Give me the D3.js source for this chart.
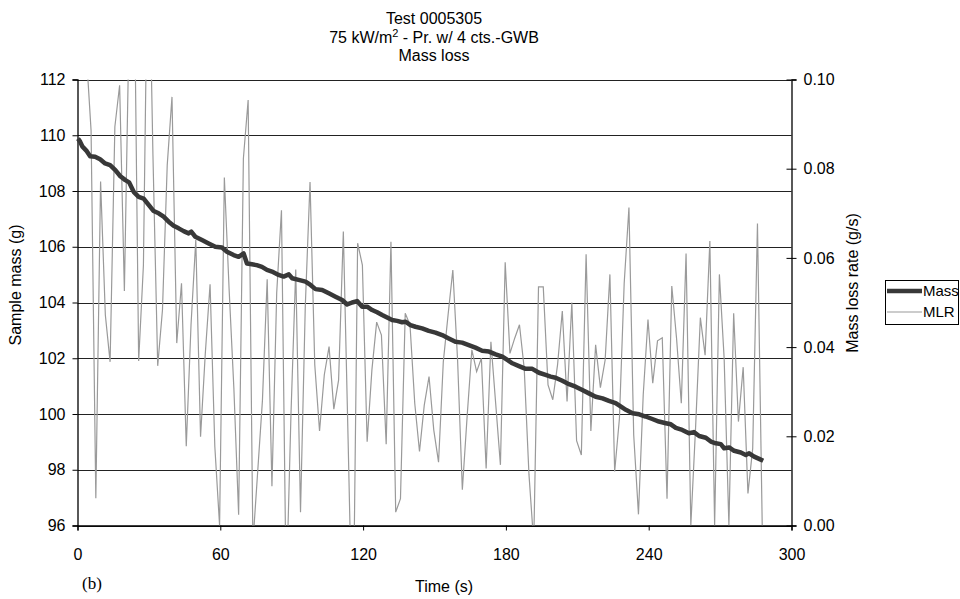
<!DOCTYPE html>
<html>
<head>
<meta charset="utf-8">
<script src="https://cdn.jsdelivr.net/npm/d3@7"></script>
<style>
  body { margin: 0; background: #fff; }
  svg { display: block; font-family: "Liberation Sans", Arial, sans-serif; }
</style>
</head>
<body>
<svg id="chart" width="960" height="599"></svg>
<script>
// ticks
const timeTicks = [0, 60, 120, 180, 240, 300];
const massTicks = [96, 98, 100, 102, 104, 106, 108, 110, 112];
const mlrTicks = [0, 0.02, 0.04, 0.06, 0.08, 0.1];

// sample mass (g)
const massTime = [0.2, 1.1, 2.1, 3.9, 5.3, 7.4, 9.5, 11.6, 13.7, 15.9, 18, 20.1, 21.7, 23.6, 25.7, 27.8, 29.9, 32, 34.1, 36.2,
  38.3, 40.4, 42.5, 44.6, 46.7, 47.8, 49.5, 52.3, 55.1, 57.9, 60.7, 62.8, 65.6, 67.7, 69.8, 71.2, 73.3, 75.3, 77.5, 79.6,
  81.7, 84.5, 86.6, 88.8, 90.2, 92.9, 95.8, 97.9, 100, 102.8, 105.6, 108.4, 111.2, 113.3, 115.4, 117.5, 119.6, 121.7, 123.8, 125.9,
  128, 130.1, 132.2, 134.3, 136.4, 137.8, 139.9, 142, 144.8, 147.6, 150.4, 153.2, 156, 158.8, 161.6, 164.4, 167.2, 170, 172.9, 175.7,
  178.5, 180.6, 182.7, 185.5, 188.3, 191.1, 193.9, 196.7, 198.8, 200.9, 203.7, 206.5, 209.3, 212.1, 214.9, 217.7, 220.6, 223.3, 226.1, 228.2,
  230.4, 233.2, 236, 238.7, 241.5, 244.3, 247.2, 249.3, 251.4, 254.1, 256.9, 259, 261.2, 264, 266.1, 268.2, 270.3, 271.7, 273.8, 275.9,
  278.7, 280.8, 282.2, 284.3, 286.4, 288.1];
const massValue = [109.88, 109.77, 109.59, 109.43, 109.25, 109.23, 109.14, 108.99, 108.93, 108.75, 108.53, 108.39, 108.31, 107.97, 107.79, 107.73, 107.5, 107.28, 107.2, 107.08,
  106.9, 106.75, 106.66, 106.56, 106.48, 106.54, 106.36, 106.24, 106.12, 106.0, 105.97, 105.82, 105.7, 105.64, 105.76, 105.4, 105.37, 105.34, 105.28, 105.17,
  105.11, 104.99, 104.93, 105.01, 104.87, 104.81, 104.75, 104.63, 104.48, 104.45, 104.33, 104.21, 104.09, 103.93, 104.0, 104.05, 103.85, 103.85, 103.73, 103.65,
  103.55, 103.46, 103.37, 103.34, 103.29, 103.31, 103.19, 103.13, 103.07, 102.98, 102.92, 102.83, 102.71, 102.59, 102.56, 102.47, 102.38, 102.27, 102.24, 102.14,
  102.06, 101.94, 101.82, 101.72, 101.62, 101.62, 101.48, 101.4, 101.34, 101.3, 101.19, 101.07, 100.98, 100.86, 100.74, 100.62, 100.56, 100.47, 100.39, 100.27,
  100.15, 100.03, 99.99, 99.91, 99.82, 99.73, 99.67, 99.63, 99.5, 99.43, 99.31, 99.35, 99.21, 99.15, 99.01, 98.95, 98.92, 98.77, 98.8, 98.68,
  98.62, 98.53, 98.59, 98.47, 98.39, 98.32];

// mass loss rate (g/s), one reading every 2 s
const mlrTime = [3.7, 5.7, 7.7, 9.7, 11.7, 13.7, 15.7, 17.7, 19.7, 21.7, 23.7, 25.7, 27.7, 29.7, 31.7, 33.7, 35.7, 37.7, 39.7, 41.7,
  43.7, 45.7, 47.7, 49.7, 51.7, 53.7, 55.7, 57.7, 59.7, 61.7, 63.7, 65.7, 67.7, 69.7, 71.7, 73.7, 75.7, 77.7, 79.7, 81.7,
  83.7, 85.7, 87.7, 89.7, 91.7, 93.7, 95.7, 97.7, 99.7, 101.7, 103.7, 105.7, 107.7, 109.7, 111.7, 113.7, 115.7, 117.7, 119.7, 121.7,
  123.7, 125.7, 127.7, 129.7, 131.7, 133.7, 135.7, 137.7, 139.7, 141.7, 143.7, 145.7, 147.7, 149.7, 151.7, 153.7, 155.7, 157.7, 159.7, 161.7,
  163.7, 165.7, 167.7, 169.7, 171.7, 173.7, 175.7, 177.7, 179.7, 181.7, 183.7, 185.7, 187.7, 189.7, 191.7, 193.7, 195.7, 197.7, 199.7, 201.7,
  203.7, 205.7, 207.7, 209.7, 211.7, 213.7, 215.7, 217.7, 219.7, 221.7, 223.7, 225.7, 227.7, 229.7, 231.7, 233.7, 235.7, 237.7, 239.7, 241.7,
  243.7, 245.7, 247.7, 249.7, 251.7, 253.7, 255.7, 257.7, 259.7, 261.7, 263.7, 265.7, 267.7, 269.7, 271.7, 273.7, 275.7, 277.7, 279.7, 281.7,
  283.7, 285.7, 287.7];
const mlrValue = [0.106, 0.0886, 0.0061, 0.0771, 0.0472, 0.0367, 0.0894, 0.0987, 0.0526, 0.113, 0.131, 0.0369, 0.0584, 0.14, 0.083, 0.0358, 0.0483, 0.0808, 0.0961, 0.0409,
  0.0543, 0.0178, 0.045, 0.064, 0.0199, 0.0386, 0.0541, 0.0177, 0.0, 0.078, 0.053, 0.0308, 0.0024, 0.0823, 0.0954, -0.004, 0.012, 0.028, 0.0552, 0.0088,
  0.0522, 0.0707, -0.0155, 0.025, 0.0574, 0.003, 0.049, 0.077, 0.036, 0.0212, 0.0338, 0.0401, 0.0261, 0.0326, 0.0659, 0.0192, -0.03, 0.0633, 0.0584, 0.0188,
  0.0349, 0.0456, 0.0427, 0.0182, 0.0636, 0.003, 0.006, 0.0476, 0.045, 0.0274, 0.0166, 0.027, 0.0334, 0.0214, 0.0142, 0.0367, 0.0472, 0.0573, 0.0371, 0.008,
  0.0244, 0.0394, 0.0345, 0.0375, 0.0128, 0.0412, 0.0274, 0.0136, 0.059, 0.0386, 0.042, 0.045, 0.0352, 0.0114, -0.004, 0.0535, 0.0535, 0.0315, 0.0282, 0.036,
  0.0481, 0.0278, 0.05, 0.019, 0.0158, 0.0608, 0.0212, 0.0405, 0.0309, 0.0371, 0.0563, 0.0121, 0.024, 0.0543, 0.0713, 0.0203, 0.0025, 0.0293, 0.0462, 0.0319,
  0.0414, 0.0421, 0.006, 0.0537, 0.042, 0.0274, 0.061, 0.0, 0.022, 0.0466, 0.0382, 0.0638, 0.0, 0.0563, 0.0375, 0.0, 0.0476, 0.0233, 0.0355, 0.0072,
  0.0173, 0.0677, 0.0];

const svg = d3.select("#chart");
const plotLeft = 77.5, plotRight = 791.5, plotTop = 79.5, plotBottom = 525.5;

const x = d3.scaleLinear().domain([0, 300]).range([plotLeft, plotRight]);
const yMass = d3.scaleLinear().domain([96, 112]).range([plotBottom, plotTop]);
const yMlr = d3.scaleLinear().domain([0, 0.1]).range([plotBottom, plotTop]);

// titles
const title = svg.append("g").attr("text-anchor", "middle").attr("font-size", 16);
title.append("text").attr("x", 434).attr("y", 24).text("Test 0005305");
const t2 = title.append("text").attr("x", 434).attr("y", 43);
t2.append("tspan").text("75 kW/m");
t2.append("tspan").attr("font-size", 11).attr("dy", -6).text("2");
t2.append("tspan").attr("dy", 6).text(" - Pr. w/ 4 cts.-GWB");
title.append("text").attr("x", 434).attr("y", 61).text("Mass loss");

// gridlines
svg.append("g")
  .selectAll("line")
  .data(massTicks)
  .join("line")
  .attr("x1", plotLeft)
  .attr("x2", plotRight)
  .attr("y1", (d) => Math.round(yMass(d)) + 0.5)
  .attr("y2", (d) => Math.round(yMass(d)) + 0.5)
  .attr("stroke", "#222")
  .attr("stroke-width", 1);

// axes
const leftAxis = svg.append("g")
  .attr("transform", `translate(${plotLeft},0)`)
  .call(d3.axisLeft(yMass).tickValues(massTicks).tickSize(5).tickPadding(7).tickFormat(d3.format("d")));
const rightAxis = svg.append("g")
  .attr("transform", `translate(${plotRight},0)`)
  .call(d3.axisRight(yMlr).tickValues(mlrTicks).tickSize(5).tickPadding(7).tickFormat(d3.format(".2f")));
rightAxis.selectAll(".tick line").attr("x1", -5);
const bottomAxis = svg.append("g")
  .attr("transform", `translate(0,${plotBottom})`)
  .call(d3.axisBottom(x).tickValues(timeTicks).tickSize(5).tickPadding(18).tickFormat(d3.format("d")));

[leftAxis, rightAxis, bottomAxis].forEach((g) => {
  g.select(".domain").attr("stroke", "#000").attr("stroke-width", 1.3);
  g.selectAll(".tick line").attr("stroke", "#000");
  g.selectAll(".tick text").attr("font-size", 16).attr("fill", "#000")
    .attr("font-family", "'Liberation Sans', Arial, sans-serif");
});

// axis titles
svg.append("text")
  .attr("transform", "translate(21,285) rotate(-90)")
  .attr("text-anchor", "middle").attr("font-size", 16)
  .text("Sample mass (g)");
svg.append("text")
  .attr("transform", "translate(858,283) rotate(-90)")
  .attr("text-anchor", "middle").attr("font-size", 16)
  .text("Mass loss rate (g/s)");
svg.append("text")
  .attr("x", 444).attr("y", 592)
  .attr("text-anchor", "middle").attr("font-size", 16)
  .text("Time (s)");
svg.append("text")
  .attr("x", 82).attr("y", 589)
  .attr("font-family", "'Liberation Serif', 'Times New Roman', serif")
  .attr("font-size", 17)
  .text("(b)");

// series
svg.append("clipPath").attr("id", "plot-clip")
  .append("rect")
  .attr("x", plotLeft).attr("y", plotTop)
  .attr("width", plotRight - plotLeft).attr("height", plotBottom - plotTop);

const mlrLine = d3.line()
  .x((d, i) => x(mlrTime[i]))
  .y((d) => yMlr(d));
svg.append("path")
  .attr("clip-path", "url(#plot-clip)")
  .attr("d", mlrLine(mlrValue))
  .attr("fill", "none")
  .attr("stroke", "#9a9a9a")
  .attr("stroke-width", 1.2);

const massLine = d3.line()
  .x((d, i) => x(massTime[i]))
  .y((d) => yMass(d));
svg.append("path")
  .attr("d", massLine(massValue))
  .attr("fill", "none")
  .attr("stroke", "#383838")
  .attr("stroke-width", 4.5)
  .attr("stroke-linejoin", "round");

// legend
const legend = svg.append("g").attr("font-size", 15);
legend.append("rect")
  .attr("x", 885.5).attr("y", 280.5)
  .attr("width", 73).attr("height", 44)
  .attr("fill", "#fff").attr("stroke", "#000").attr("stroke-width", 1);
const legendItems = [
  { name: "Mass", color: "#383838", width: 4.5, y: 291 },
  { name: "MLR", color: "#9a9a9a", width: 1.2, y: 312 },
];
legendItems.forEach((item) => {
  legend.append("line")
    .attr("x1", 887).attr("x2", 922)
    .attr("y1", item.y).attr("y2", item.y)
    .attr("stroke", item.color).attr("stroke-width", item.width);
  legend.append("text")
    .attr("x", 923).attr("y", item.y + 5)
    .text(item.name);
});
</script>
</body>
</html>
